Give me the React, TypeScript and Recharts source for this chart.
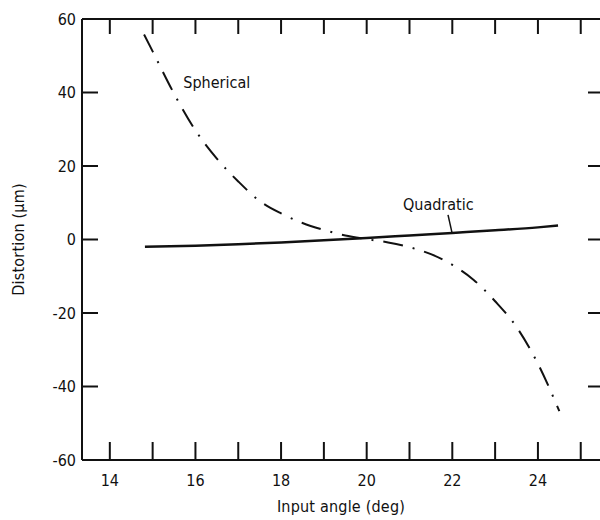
import { Label, Line, LineChart, ReferenceLine, XAxis, YAxis } from "recharts";

const sphericalX = [14.8, 15, 15.5, 16, 16.5, 17, 17.5, 18, 18.5, 19, 19.5, 20, 20.5, 21, 21.5, 22, 22.5, 23, 23.5, 24, 24.5];
const sphericalY = [55.8, 51.2, 39.7, 29.7, 22.0, 15.8, 10.5, 7.1, 4.5, 2.6, 1.1, 0.1, -0.8, -2.1, -4.0, -6.9, -11.0, -16.8, -23.8, -33.8, -46.7];

const quadraticX = [14.82, 16, 17, 18, 19, 20, 21, 22, 23, 24, 24.47];
const quadraticY = [-2.0, -1.7, -1.3, -0.8, -0.2, 0.4, 1.1, 1.8, 2.5, 3.3, 3.8];

const xTicks = [14, 15, 16, 17, 18, 19, 20, 21, 22, 23, 24, 25];
const yTicks = [-60, -40, -20, 0, 20, 40, 60];

const spherical = sphericalX.map((x, i) => ({ x, y: sphericalY[i] }));
const quadratic = quadraticX.map((x, i) => ({ x, y: quadraticY[i] }));

const INK = "#111";
const FONT = "'DejaVu Sans Condensed', 'DejaVu Sans', sans-serif";
const PLOT_TOP = 19;
const PLOT_RIGHT = 600;

function XTick(props: any) {
  const { x, y, payload } = props;
  const v = payload.value;
  return (
    <g>
      <line x1={x} x2={x} y1={y} y2={y - 18} stroke={INK} strokeWidth={2} />
      <line x1={x} x2={x} y1={PLOT_TOP} y2={PLOT_TOP + 15} stroke={INK} strokeWidth={2} />
      {v % 2 === 0 && v <= 24 ? (
        <text x={x} y={y + 20} dy="0.35em" textAnchor="middle" fill={INK} fontSize={16} fontFamily={FONT}>
          {v}
        </text>
      ) : null}
    </g>
  );
}

function YTick(props: any) {
  const { x, y, payload } = props;
  const v = payload.value;
  const inner = Math.abs(v) < 60;
  return (
    <g>
      {inner ? <line x1={x} x2={x + 16} y1={y} y2={y} stroke={INK} strokeWidth={2} /> : null}
      {inner ? <line x1={PLOT_RIGHT - 12} x2={PLOT_RIGHT} y1={y} y2={y} stroke={INK} strokeWidth={2} /> : null}
      <text x={x - 6} y={y} dy="0.35em" textAnchor="end" fill={INK} fontSize={16} fontFamily={FONT}>
        {v < 0 ? "-" + Math.abs(v) : v}
      </text>
    </g>
  );
}

export default function App() {
  return (
    <div style={{ position: "absolute", left: 0, top: 0, background: "#fff" }}>
      <LineChart width={600} height={520} margin={{ top: PLOT_TOP, right: 0, left: 0, bottom: 0 }}>
        <XAxis
          dataKey="x"
          type="number"
          domain={[13.35, 25.45]}
          ticks={xTicks}
          allowDataOverflow
          height={60}
          tickSize={0}
          tickMargin={0}
          tickLine={false}
          axisLine={{ stroke: INK, strokeWidth: 2 }}
          tick={<XTick />}
          interval={0}
        >
          <Label
            value="Input angle (deg)"
            position="insideBottom"
            offset={8}
            style={{ fill: INK, fontSize: 16, fontFamily: FONT, letterSpacing: 0.2 }}
          />
        </XAxis>
        <YAxis
          type="number"
          domain={[-60, 60]}
          ticks={yTicks}
          width={82}
          tickSize={0}
          tickMargin={0}
          tickLine={false}
          axisLine={{ stroke: INK, strokeWidth: 2 }}
          tick={<YTick />}
          interval={0}
        >
          <Label
            value="Distortion (µm)"
            position="insideLeft"
            angle={-90}
            offset={18}
            style={{ fill: INK, fontSize: 16, fontFamily: FONT, textAnchor: "middle", letterSpacing: 0.2 }}
          />
        </YAxis>
        <ReferenceLine y={60} stroke={INK} strokeWidth={2} />
        <ReferenceLine
          segment={[
            { x: 21.9, y: 6.7 },
            { x: 21.99, y: 2.0 },
          ]}
          stroke={INK}
          strokeWidth={1.5}
        />
        <Line
          data={spherical}
          dataKey="y"
          type="monotone"
          stroke={INK}
          strokeWidth={2}
          strokeDasharray="20 10 2 10"
          dot={false}
          isAnimationActive={false}
        />
        <Line
          data={quadratic}
          dataKey="y"
          type="monotone"
          stroke={INK}
          strokeWidth={2.5}
          dot={false}
          isAnimationActive={false}
        />
        <ReferenceLine
          segment={[
            { x: 15.6, y: 42.9 },
            { x: 15.6, y: 42.9 },
          ]}
          stroke="none"
          label={{ value: "Spherical", position: "right", fill: INK, fontSize: 16, fontFamily: FONT }}
        />
        <ReferenceLine
          segment={[
            { x: 20.73, y: 9.7 },
            { x: 20.73, y: 9.7 },
          ]}
          stroke="none"
          label={{ value: "Quadratic", position: "right", fill: INK, fontSize: 16, fontFamily: FONT }}
        />
      </LineChart>
    </div>
  );
}
